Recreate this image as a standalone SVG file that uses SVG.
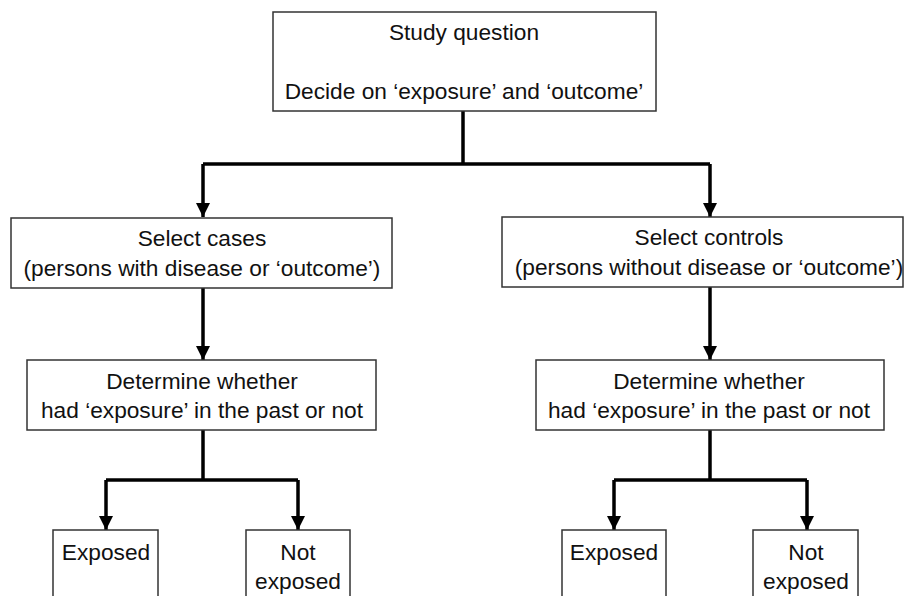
<svg xmlns="http://www.w3.org/2000/svg" width="906" height="596" viewBox="0 0 906 596">
<defs>
<style>
.box{fill:#fff;stroke:#333;stroke-width:1.5}
.t{font-family:"Liberation Sans",Arial,sans-serif;font-size:22.7px;fill:#111;text-anchor:middle}
.c{fill:none;stroke:#000;stroke-width:3.5}
</style>
<marker id="ah" viewBox="0 0 10 10" refX="10" refY="5" markerWidth="4" markerHeight="4" orient="auto" markerUnits="strokeWidth">
<path d="M0,0 L10,5 L0,10 z" fill="#000"/>
</marker>
</defs>
<rect width="906" height="596" fill="#fff"/>
<g id="connectors">
<path class="c" d="M463,111 V164"/>
<path class="c" d="M203,164 H710"/>
<path class="c" d="M203,164 V217" marker-end="url(#ah)"/>
<path class="c" d="M710,164 V217" marker-end="url(#ah)"/>
<path class="c" d="M203,288 V360" marker-end="url(#ah)"/>
<path class="c" d="M710,287 V360" marker-end="url(#ah)"/>
<path class="c" d="M203,430 V480"/>
<path class="c" d="M106,480 H298"/>
<path class="c" d="M106,480 V530" marker-end="url(#ah)"/>
<path class="c" d="M298,480 V530" marker-end="url(#ah)"/>
<path class="c" d="M710,430 V480"/>
<path class="c" d="M614,480 H807"/>
<path class="c" d="M614,480 V530" marker-end="url(#ah)"/>
<path class="c" d="M807,480 V530" marker-end="url(#ah)"/>
</g>
<g id="study">
<rect class="box" x="273" y="12" width="383" height="99"/>
<text class="t" x="464" y="40">Study question</text>
<text class="t" x="464" y="99">Decide on ‘exposure’ and ‘outcome’</text>
</g>
<g id="cases">
<rect class="box" x="11" y="218" width="381" height="70"/>
<text class="t" x="202" y="246">Select cases</text>
<text class="t" x="202" y="276">(persons with disease or ‘outcome’)</text>
</g>
<g id="controls">
<rect class="box" x="502" y="217" width="401" height="70"/>
<text class="t" x="709" y="245">Select controls</text>
<text class="t" x="709" y="275">(persons without disease or ‘outcome’)</text>
</g>
<g id="det-left">
<rect class="box" x="27" y="360" width="349" height="70"/>
<text class="t" x="202" y="389">Determine whether</text>
<text class="t" x="202" y="418">had ‘exposure’ in the past or not</text>
</g>
<g id="det-right">
<rect class="box" x="536" y="360" width="348" height="70"/>
<text class="t" x="709" y="389">Determine whether</text>
<text class="t" x="709" y="418">had ‘exposure’ in the past or not</text>
</g>
<g id="exp-left">
<rect class="box" x="53" y="530" width="105" height="80"/>
<text class="t" x="106" y="560">Exposed</text>
</g>
<g id="notexp-left">
<rect class="box" x="246" y="530" width="104" height="80"/>
<text class="t" x="298" y="560">Not</text>
<text class="t" x="298" y="589">exposed</text>
</g>
<g id="exp-right">
<rect class="box" x="562" y="530" width="104" height="80"/>
<text class="t" x="614" y="560">Exposed</text>
</g>
<g id="notexp-right">
<rect class="box" x="753" y="530" width="105" height="80"/>
<text class="t" x="806" y="560">Not</text>
<text class="t" x="806" y="589">exposed</text>
</g>
</svg>
